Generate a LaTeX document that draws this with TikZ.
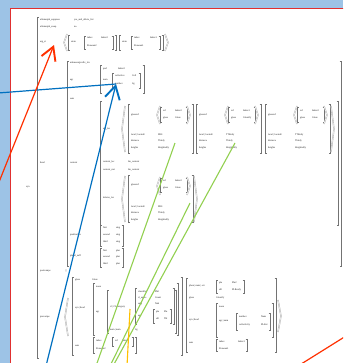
\documentclass[tikz,border=0pt]{standalone}
\usepackage{fontspec}
\setmainfont{Liberation Serif}
\usepackage{tikz}
\usetikzlibrary{arrows.meta}

\definecolor{deskblue}{RGB}{157,195,230}
\definecolor{pagered}{RGB}{224,48,48}
\definecolor{penred}{RGB}{255,48,0}
\definecolor{penblue}{RGB}{0,112,192}
\definecolor{pengreen}{RGB}{146,208,80}
\definecolor{penyellow}{RGB}{255,192,0}

\tikzstyle{feat} = [anchor=west, inner sep=0pt, text height=2mm, text depth=0.6mm, font=\fontsize{7}{8}\selectfont, text=black!90]
\tikzstyle{brack} = [draw=black!55, line width=0.6mm]
\tikzstyle{angl} = [draw=black!35, line width=0.4mm, double=white, double distance=0.5mm]
\tikzstyle{redpen} = [draw=penred, line width=1.2mm]
\tikzstyle{bluepen} = [draw=penblue, line width=1.2mm]
\tikzstyle{greenpen} = [draw=pengreen, line width=1.1mm]
\tikzstyle{yellowpen} = [draw=penyellow, line width=1.1mm]
\tikzstyle{barb} = [-{Straight Barb[length=13mm, width=15mm, line width=1.9mm]}]

% square and angle brackets: x, top y, bottom y
\newcommand{\avmL}[3]{\draw [brack] (#1+1.5,#2) -- (#1,#2) -- (#1,#3) -- (#1+1.5,#3);}
\newcommand{\avmR}[3]{\draw [brack] (#1-1.5,#2) -- (#1,#2) -- (#1,#3) -- (#1-1.5,#3);}
\newcommand{\avmLA}[3]{\draw [angl] (#1+3,#2) -- (#1,{(#2+#3)/2}) -- (#1+3,#3);}
\newcommand{\avmRA}[3]{\draw [angl] (#1-3,#2) -- (#1,{(#2+#3)/2}) -- (#1-3,#3);}

\begin{document}
\begin{tikzpicture}[x=1mm, y=-1mm] % one unit is one pixel of the screenshot

\useasboundingbox (0,0) rectangle (343,363);
\clip (0,0) rectangle (343,363);

% Desk and page
\fill [deskblue] (0,0) rectangle (343,363);
\draw [pagered, fill=white, line width=0.9mm] (10,8) rectangle (360,380);

% Outer matrix
\avmL{37}{17}{358}
\node (syn)          [feat] at (26,187)  {syn};
\node (allo_supp)    [feat] at (40,20)   {allomorph\_suppress};
\node (allo_supp_v)  [feat] at (74,20)   {yes\_and\_delete\_list};
\node (allo_swap)    [feat] at (40,27)   {allomorph\_swap};
\node (allo_swap_v)  [feat] at (74,27)   {no};
\node (arg_st)       [feat] at (40,42)   {arg\_st};
\node (head)         [feat] at (40,163)  {head};
\node (postcomps)    [feat] at (40,271)  {postcomps};
\node (postcomps_v)  [feat] at (65,271)  {$\langle\rangle$};
\node (precomps)     [feat] at (40,317)  {precomps};

% arg_st list
\avmLA{64}{34}{51}
\avmL{68}{35}{50}
\node (stem_a)       [feat] at (71,42)   {stem};
\avmL{84}{36}{49}
\node (idx_a)        [feat] at (87,38)   {index};
\node (idx_a_v)      [feat] at (101,38)  {Index2};
\node (pron_a)       [feat] at (87,46)   {Pronoun2};
\avmR{113}{36}{49}
\avmR{116}{35}{50}
\avmL{119}{35}{50}
\node (stem_b)       [feat] at (122,42)  {stem};
\avmL{131}{36}{49}
\node (idx_b)        [feat] at (134,38)  {index};
\node (idx_b_v)      [feat] at (150,38)  {Index1};
\node (pron_b)       [feat] at (134,46)  {Pronoun1};
\avmR{160}{36}{49}
\avmR{163}{35}{50}
\avmRA{168}{34}{51}

% head
\avmL{67}{61}{266}
\avmR{341}{61}{266}
\node (lex)          [feat] at (70,63)   {unknown|prefix\_lex};
\node (agr)          [feat] at (70,80)   {agr};
\avmL{100}{65}{93}
\node (pref)         [feat] at (103,69)  {pref};
\node (pref_v)       [feat] at (118,69)  {Index2};
\node (num)          [feat] at (103,80)  {num};
\avmL{112}{73}{88}
\node (coll)         [feat] at (115,76)  {collective};
\node (coll_v)       [feat] at (132,76)  {Coll};
\node (numb)         [feat] at (115,84)  {number};
\node (numb_v)       [feat] at (132,84)  {Sg};
\avmR{140}{73}{88}
\avmR{144}{65}{93}
\node (sem)          [feat] at (70,99)   {sem};
\node (content)      [feat] at (70,163)  {content};

% content
\avmL{100}{101}{225}
\avmR{338}{101}{225}
\node (adj_loc)      [feat] at (103,129) {adj\_loc};
\avmLA{122}{106}{152}

\avmL{128}{104}{153}
\node (g1_gref)      [feat] at (131,115) {glossref};
\avmLA{157}{106}{124}
\avmL{160}{107}{122}
\node (g1_ref)       [feat] at (163,111) {ref};
\node (g1_ref_v)     [feat] at (175,111) {Index2};
\node (g1_gloss)     [feat] at (163,118) {gloss};
\node (g1_gloss_v)   [feat] at (175,118) {Gloss};
\avmR{187}{107}{122}
\avmRA{190}{106}{124}
\node (g1_loc)       [feat] at (131,135) {local | locateE};
\node (g1_loc_v)     [feat] at (158,135) {FBS};
\node (g1_dist)      [feat] at (131,141) {distance};
\node (g1_dist_v)    [feat] at (158,141) {Thirdy};
\node (g1_hgt)       [feat] at (131,148) {heights};
\node (g1_hgt_v)     [feat] at (158,148) {Heightedly};
\avmR{193}{104}{153}

\avmL{196}{104}{153}
\node (g2_gref)      [feat] at (199,115) {glossref};
\avmLA{225}{106}{124}
\avmL{228}{107}{122}
\node (g2_ref)       [feat] at (231,111) {ref};
\node (g2_ref_v)     [feat] at (243,111) {Index1};
\node (g2_gloss)     [feat] at (231,118) {gloss};
\node (g2_gloss_v)   [feat] at (243,118) {Glossify};
\avmR{255}{107}{122}
\avmRA{258}{106}{124}
\node (g2_loc)       [feat] at (199,135) {local | locateE};
\node (g2_loc_v)     [feat] at (226,135) {TThirdy};
\node (g2_dist)      [feat] at (199,141) {distance};
\node (g2_dist_v)    [feat] at (226,141) {Thirdy};
\node (g2_hgt)       [feat] at (199,148) {heights};
\node (g2_hgt_v)     [feat] at (226,148) {Heightedly};
\avmR{261}{104}{153}

\avmL{265}{104}{153}
\node (g3_gref)      [feat] at (268,115) {glossref};
\avmLA{294}{106}{124}
\avmL{297}{107}{122}
\node (g3_ref)       [feat] at (300,111) {ref};
\node (g3_ref_v)     [feat] at (312,111) {Index2};
\node (g3_gloss)     [feat] at (300,118) {gloss};
\node (g3_gloss_v)   [feat] at (312,118) {Gloss};
\avmR{324}{107}{122}
\avmRA{327}{106}{124}
\node (g3_loc)       [feat] at (268,135) {local | locateE};
\node (g3_loc_v)     [feat] at (295,135) {TThirdy};
\node (g3_dist)      [feat] at (268,141) {distance};
\node (g3_dist_v)    [feat] at (295,141) {Thirdy};
\node (g3_hgt)       [feat] at (268,148) {heights};
\node (g3_hgt_v)     [feat] at (295,148) {Heightedly};
\avmR{330}{104}{153}
\avmRA{334}{106}{152}

\node (c_loc)        [feat] at (103,162) {content\_loc};
\node (c_loc_v)      [feat] at (128,162) {Im\_content};
\node (c_rest)       [feat] at (103,170) {content\_rest};
\node (c_rest_v)     [feat] at (128,170) {Im\_content};

\node (del_loc)      [feat] at (103,198) {deletes\_loc};
\avmLA{122}{176}{222}
\avmL{128}{175}{222}
\node (g4_gref)      [feat] at (131,185) {glossref};
\avmLA{157}{177}{195}
\avmL{160}{178}{192}
\node (g4_ref)       [feat] at (163,181) {ref};
\node (g4_ref_v)     [feat] at (175,181) {Index2};
\node (g4_gloss)     [feat] at (163,188) {gloss};
\node (g4_gloss_v)   [feat] at (175,188) {Gloss};
\avmR{187}{178}{192}
\avmRA{190}{177}{195}
\node (g4_loc)       [feat] at (131,207) {local | locateE};
\node (g4_loc_v)     [feat] at (158,207) {FBS};
\node (g4_dist)      [feat] at (131,213) {distance};
\node (g4_dist_v)    [feat] at (158,213) {Thirdy};
\node (g4_hgt)       [feat] at (131,220) {heights};
\node (g4_hgt_v)     [feat] at (158,220) {Heightedly};
\avmR{193}{175}{222}
\avmRA{197}{176}{222}

% person tables
\node (pred)         [feat] at (70,235)  {predicative};
\avmL{100}{225}{246}
\node (pred_1)       [feat] at (103,228) {first};
\node (pred_1_v)     [feat] at (116,228) {sing};
\node (pred_2)       [feat] at (103,235) {second};
\node (pred_2_v)     [feat] at (116,235) {sing};
\node (pred_3)       [feat] at (103,242) {third};
\node (pred_3_v)     [feat] at (116,242) {sing};
\avmR{123}{225}{246}
\node (plur)         [feat] at (70,256)  {plural\_suff};
\avmL{100}{248}{267}
\node (plur_1)       [feat] at (103,251) {first};
\node (plur_1_v)     [feat] at (116,251) {plur};
\node (plur_2)       [feat] at (103,257) {second};
\node (plur_2_v)     [feat] at (116,257) {plur};
\node (plur_3)       [feat] at (103,264) {third};
\node (plur_3_v)     [feat] at (116,264) {plur};
\avmR{123}{248}{267}

% precomps list
\avmLA{65}{298}{336}
\avmL{72}{277}{355}
\node (a_gloss)      [feat] at (75,280)  {gloss};
\node (a_gloss_v)    [feat] at (92,280)  {Gloss};
\node (a_syn)        [feat] at (75,308)  {syn | head};
\avmL{93}{283}{335}
\node (a_noun)       [feat] at (96,287)  {noun};
\node (a_agr)        [feat] at (96,312)  {agr};
\avmL{107}{290}{333}
\node (a_cl)         [feat] at (110,307) {cl | CLcategory};
\avmL{135}{288}{324}
\node (a_class)      [feat] at (138,292) {classifier};
\node (a_class_v)    [feat] at (155,292) {Phil};
\node (a_clagr)      [feat] at (138,298) {cl\_agree};
\node (a_clagr_v)    [feat] at (155,298) {Count};
\node (a_subj)       [feat] at (138,304) {subj};
\node (a_subj_v)     [feat] at (155,304) {Nah};
\node (a_cagr)       [feat] at (138,316) {agr};
\avmL{153}{309}{323}
\node (a_plu)        [feat] at (156,312) {plu};
\node (a_plu_v)      [feat] at (164,312) {Plu};
\node (a_sill)       [feat] at (156,319) {sill};
\node (a_sill_v)     [feat] at (164,319) {TH};
\avmR{171}{309}{323}
\avmR{174}{288}{324}
\node (a_num)        [feat] at (110,330) {num | num};
\node (a_num_v)      [feat] at (135,330) {Sg};
\avmR{176}{290}{333}
\avmR{178}{283}{335}
\node (a_sem)        [feat] at (75,346)  {sem};
\avmL{93}{337}{353}
\node (a_idx)        [feat] at (96,341)  {index};
\avmL{112}{337}{346}
\node (a_ref)        [feat] at (115,341) {ref};
\node (a_ref_v)      [feat] at (122,341) {Index2};
\avmR{133}{337}{346}
\node (a_pron)       [feat] at (96,349)  {Pronoun2};
\avmR{136}{337}{353}
\avmR{182}{277}{355}

\avmL{186}{278}{352}
\node (b_phon)       [feat] at (189,286) {phon | num | ori};
\avmL{216}{280}{293}
\node (b_plu)        [feat] at (219,283) {plu};
\node (b_plu_v)      [feat] at (232,283) {Plu2};
\node (b_sill)       [feat] at (219,290) {sill};
\node (b_sill_v)     [feat] at (232,290) {PLBordy};
\avmR{244}{280}{293}
\node (b_gloss)      [feat] at (189,298) {gloss};
\node (b_gloss_v)    [feat] at (216,298) {Glossify};
\node (b_syn)        [feat] at (189,320) {syn | head};
\avmL{216}{303}{337}
\node (b_noun)       [feat] at (219,307) {noun};
\node (b_agr)        [feat] at (219,321) {agr | num};
\avmL{236}{313}{330}
\node (b_numb)       [feat] at (239,317) {number};
\node (b_numb_v)     [feat] at (261,317) {Num};
\node (b_coll)       [feat] at (239,325) {collectivity};
\node (b_coll_v)     [feat] at (261,325) {PLdist};
\avmR{270}{313}{330}
\avmR{273}{303}{337}
\node (b_sem)        [feat] at (189,343) {sem};
\avmL{216}{339}{351}
\node (b_idx)        [feat] at (219,342) {index};
\node (b_idx_v)      [feat] at (238,342) {Index1};
\node (b_pron)       [feat] at (219,349) {Pronoun1};
\avmR{247}{339}{351}
\avmR{276}{278}{352}
\avmRA{281}{300}{332}

% Pen strokes on top
\coordinate (red_tail)    at (-3,187);
\coordinate (red_tip)     at (54,45);
\coordinate (red2_a)      at (298,366);
\coordinate (red2_b)      at (346,336);
\coordinate (blue_tail_a) at (-2,93);
\coordinate (blue_tail_b) at (46,366);
\coordinate (blue_tip)    at (116,84);
\coordinate (green_a)     at (175,143);
\coordinate (green_a_end) at (96,366);
\coordinate (green_b)     at (235,143);
\coordinate (green_b_end) at (113,366);
\coordinate (green_c)     at (190,203);
\coordinate (green_c_end) at (110,366);
\coordinate (yellow_a)    at (130,309);
\coordinate (yellow_end)  at (127,366);

\draw [greenpen]        (green_a)     -- (green_a_end);
\draw [greenpen]        (green_b)     -- (green_b_end);
\draw [greenpen]        (green_c)     -- (green_c_end);
\draw [yellowpen]       (yellow_a)    -- (yellow_end);
\draw [bluepen]         (blue_tail_a) -- (blue_tip);
\draw [bluepen, barb]   (blue_tail_b) -- (blue_tip);
\draw [redpen, barb]    (red_tail)    -- (red_tip);
\draw [redpen]          (red2_a)      -- (red2_b);

\end{tikzpicture}
\end{document}
